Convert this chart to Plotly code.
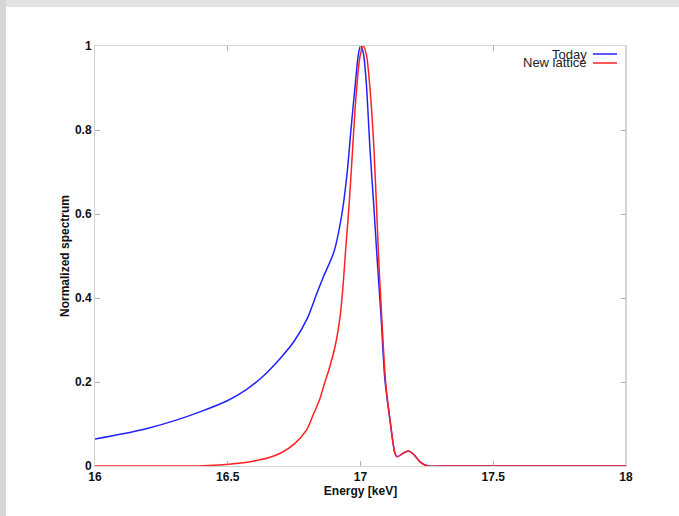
import plotly.graph_objects as go

# Spectrum samples (energy in keV, normalized intensity)
today_energy = [16.0, 16.1, 16.2, 16.3, 16.4, 16.5, 16.57, 16.63, 16.7, 16.75, 16.8, 16.835,
                16.86, 16.9, 16.93, 16.95, 16.964, 16.979, 16.992, 17.0, 17.01, 17.021, 17.036,
                17.05, 17.062, 17.078, 17.092, 17.111, 17.13, 17.138, 17.16, 17.18, 17.2,
                17.224, 17.255, 17.3, 17.6, 18.0]
today_signal = [0.064, 0.076, 0.090, 0.108, 0.130, 0.156, 0.182, 0.212, 0.258, 0.297, 0.352, 0.410,
                0.450, 0.51, 0.60, 0.70, 0.80, 0.90, 0.98, 1.0, 0.985, 0.919, 0.752,
                0.62, 0.50, 0.35, 0.205, 0.110, 0.030, 0.022, 0.030, 0.036, 0.028,
                0.010, 0.0, 0.0, 0.0, 0.0]

new_energy = [16.0, 16.3, 16.38, 16.45, 16.5, 16.55, 16.6, 16.65, 16.7, 16.75, 16.797,
              16.822, 16.847, 16.866, 16.879, 16.904, 16.923, 16.935, 16.944, 16.958, 16.970,
              16.983, 16.998, 17.01, 17.022, 17.033, 17.051, 17.068, 17.082, 17.094, 17.111,
              17.13, 17.138, 17.16, 17.18, 17.2, 17.224, 17.255, 17.3, 17.6, 18.0]
new_signal = [0.0, 0.0, 0.0, 0.002, 0.004, 0.007, 0.012, 0.019, 0.031, 0.052, 0.086,
              0.122, 0.160, 0.200, 0.225, 0.284, 0.355, 0.435, 0.514, 0.63, 0.752,
              0.879, 0.975, 1.0, 0.98, 0.919, 0.752, 0.50, 0.33, 0.205, 0.110,
              0.030, 0.022, 0.030, 0.036, 0.028, 0.010, 0.0, 0.0, 0.0, 0.0]

x_ticks = [16, 16.5, 17, 17.5, 18]
x_tick_text = ["16", "16.5", "17", "17.5", "18"]
y_ticks = [0, 0.2, 0.4, 0.6, 0.8, 1]
y_tick_text = ["0", "0.2", "0.4", "0.6", "0.8", "1"]

series_names = ["Today", "New lattice"]
series_colors = ["#2222ff", "#ff2020"]

fig = go.Figure()
fig.add_trace(go.Scatter(x=today_energy, y=today_signal, mode="lines", name=series_names[0],
                         line=dict(color=series_colors[0], width=1.5, shape="spline", smoothing=0.8)))
fig.add_trace(go.Scatter(x=new_energy, y=new_signal, mode="lines", name=series_names[1],
                         line=dict(color=series_colors[1], width=1.5, shape="spline", smoothing=0.8)))

W, H = 679, 516
ml, mr, mt, mb = 95, 53, 46, 50
pw, ph = W - ml - mr, H - mt - mb


def px_to_paper_x(px):
    return (px - ml) / pw


def px_to_paper_y(py):
    return (H - mb - py) / ph


tick_font = dict(family="Liberation Sans, Arial, sans-serif", size=12, color="#111111", weight="bold")

shapes = [
    # window border strips
    dict(type="rect", xref="paper", yref="paper", x0=px_to_paper_x(0), x1=px_to_paper_x(W),
         y0=px_to_paper_y(7), y1=px_to_paper_y(0), fillcolor="#e3e3e3", line=dict(width=0), layer="below"),
    dict(type="rect", xref="paper", yref="paper", x0=px_to_paper_x(0), x1=px_to_paper_x(6),
         y0=px_to_paper_y(H), y1=px_to_paper_y(0), fillcolor="#d6d6d6", line=dict(width=0), layer="below"),
    # right frame edge
    dict(type="line", xref="paper", yref="paper", x0=1, x1=1, y0=0, y1=1,
         line=dict(color="#a8a8a8", width=1), layer="below"),
]

# legend drawn as text plus line samples in the top-right corner
legend_rows = [54, 63]
annotations = []
for name, color, row in zip(series_names, series_colors, legend_rows):
    annotations.append(dict(xref="paper", yref="paper", x=px_to_paper_x(589), y=px_to_paper_y(row),
                            text=name, showarrow=False, xanchor="right", yanchor="middle",
                            font=dict(family="Liberation Sans, Arial, sans-serif", size=13, color="#222222")))
    shapes.append(dict(type="line", xref="paper", yref="paper", x0=px_to_paper_x(593), x1=px_to_paper_x(617),
                       y0=px_to_paper_y(row), y1=px_to_paper_y(row),
                       line=dict(color=color, width=1.5)))

fig.update_layout(
    width=W, height=H,
    margin=dict(l=ml, r=mr, t=mt, b=mb, pad=0),
    paper_bgcolor="white", plot_bgcolor="white",
    showlegend=False,
    shapes=shapes, annotations=annotations,
    xaxis=dict(range=[16, 18], tickvals=x_ticks, ticktext=x_tick_text, ticks="inside", ticklen=5,
               tickcolor="#b0b0b0", showline=True, linecolor="#d4d4d4", linewidth=1, mirror="ticks",
               showgrid=False, zeroline=False, tickfont=tick_font,
               title=dict(text="Energy [keV]", font=tick_font, standoff=1)),
    yaxis=dict(range=[0, 1], tickvals=y_ticks, ticktext=y_tick_text, ticks="inside", ticklen=5,
               tickcolor="#b0b0b0", showline=True, linecolor="#d4d4d4", linewidth=1, mirror="ticks",
               showgrid=False, zeroline=False, tickfont=tick_font,
               title=dict(text="Normalized spectrum", font=tick_font, standoff=2)),
)

fig.write_html("out.html")
